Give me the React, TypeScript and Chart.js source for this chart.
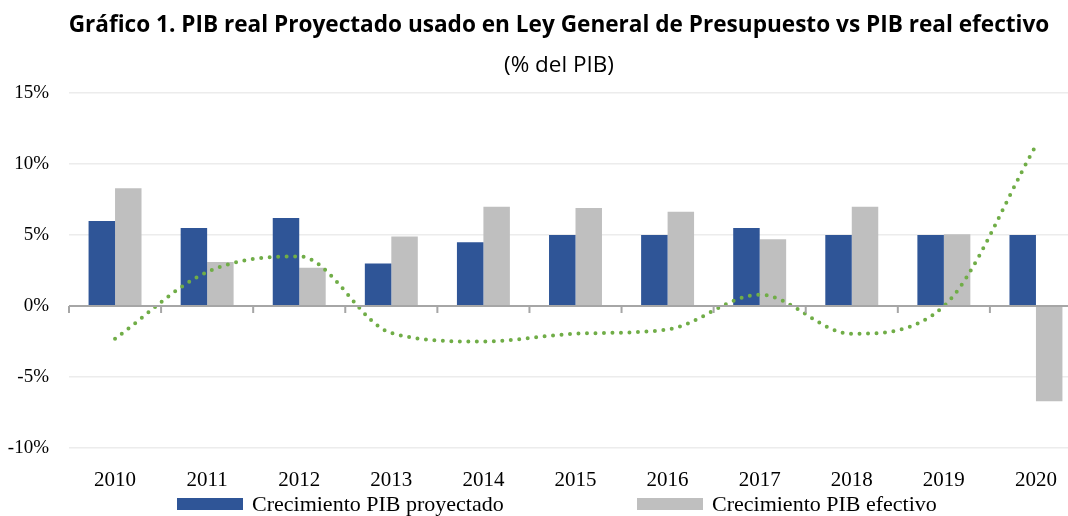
import React, { useEffect, useRef } from 'react';
import { Chart, registerables } from 'chart.js';

Chart.register(...registerables);

const years = ['2010', '2011', '2012', '2013', '2014', '2015', '2016', '2017', '2018', '2019', '2020'];
const proyectado = [6.0, 5.5, 6.2, 3.0, 4.5, 5.0, 5.0, 5.5, 5.0, 5.0, 5.0];
const efectivo = [8.3, 3.1, 2.7, 4.9, 7.0, 6.9, 6.65, 4.7, 7.0, 5.05, -6.7];
const diferencia = [-2.3, 2.4, 3.5, -1.9, -2.5, -1.95, -1.65, 0.8, -1.95, 0.0, 11.3];
const yMin = -10;
const yMax = 15;
const yStep = 5;

const titleText = 'Gráfico 1. PIB real Proyectado usado en Ley General de Presupuesto vs PIB real efectivo';
const subtitleText = '(% del PIB)';
const legendLabels = ['Crecimiento PIB proyectado', 'Crecimiento PIB efectivo'];

const BLUE = '#2F5597';
const GRAY = '#BFBFBF';
const GREEN = '#70AD47';
const AXIS = '#A6A6A6';
const GRID = '#ECECEC';
const SERIF = '"Liberation Serif", "DejaVu Serif", serif';

const axisTicksPlugin = {
  id: 'zeroAxisTicks',
  afterDatasetsDraw(chart: any) {
    const x = chart.scales.x;
    const y = chart.scales.y;
    const y0 = y.getPixelForValue(0);
    const ctx = chart.ctx;
    const n = chart.data.labels.length;
    ctx.save();
    ctx.strokeStyle = AXIS;
    ctx.lineWidth = 2;
    ctx.beginPath();
    ctx.moveTo(x.left, y0);
    ctx.lineTo(x.right, y0);
    for (let i = 0; i <= n; i++) {
      const px = x.left + (i * (x.right - x.left)) / n;
      ctx.moveTo(px, y0);
      ctx.lineTo(px, y0 + 7);
    }
    ctx.stroke();
    ctx.restore();
  },
};

export default function App() {
  const ref = useRef<HTMLCanvasElement>(null);

  useEffect(() => {
    const chart = new Chart(ref.current as HTMLCanvasElement, {
      type: 'bar',
      data: {
        labels: years,
        datasets: [
          {
            type: 'line',
            label: 'Diferencia',
            data: diferencia,
            borderColor: GREEN,
            borderWidth: 4,
            borderDash: [0, 8.5],
            borderCapStyle: 'round',
            pointRadius: 0,
            cubicInterpolationMode: 'monotone',
            fill: false,
            order: 0,
          } as any,
          {
            label: legendLabels[0],
            data: proyectado,
            backgroundColor: BLUE,
            borderWidth: 0,
            categoryPercentage: 0.575,
            barPercentage: 1,
            order: 1,
          },
          {
            label: legendLabels[1],
            data: efectivo,
            backgroundColor: GRAY,
            borderWidth: 0,
            categoryPercentage: 0.575,
            barPercentage: 1,
            order: 1,
          },
        ],
      },
      options: {
        responsive: false,
        animation: false,
        devicePixelRatio: 1,
        layout: { padding: 0 },
        plugins: {
          legend: { display: false },
          tooltip: { enabled: false },
          title: {
            display: true,
            text: titleText,
            color: '#000',
            font: { family: '"Open Sans", sans-serif', size: 22.6, weight: 'bold', lineHeight: 1.2 },
            padding: { top: 12, bottom: 13 },
          },
          subtitle: {
            display: true,
            text: subtitleText,
            color: '#000',
            font: { family: '"Open Sans", sans-serif', size: 22.5, weight: 'normal', lineHeight: 1.2 },
            padding: { top: 0, bottom: 14 },
          },
        },
        scales: {
          x: {
            offset: true,
            grid: { display: false },
            border: { display: false },
            ticks: {
              color: '#000',
              font: { family: SERIF, size: 21 },
              padding: 12,
              maxRotation: 0,
              autoSkip: false,
            },
            afterFit(scale: any) {
              scale.height = 68;
            },
          },
          y: {
            min: yMin,
            max: yMax,
            border: { display: false },
            grid: {
              drawTicks: false,
              color: (c: any) => (c.tick && c.tick.value === 0 ? 'rgba(0,0,0,0)' : GRID),
              lineWidth: 1.5,
            },
            ticks: {
              stepSize: yStep,
              color: '#000',
              font: { family: SERIF, size: 19 },
              padding: 20,
              callback: (v: any) => `${v}%`,
            },
            afterFit(scale: any) {
              scale.width = 69;
            },
          },
          yRight: {
            position: 'right',
            display: true,
            grid: { display: false, drawTicks: false },
            border: { display: false },
            ticks: { display: false },
            afterFit(scale: any) {
              scale.width = 36;
            },
          },
        },
      },
      plugins: [axisTicksPlugin],
    } as any);
    return () => chart.destroy();
  }, []);

  const itemStyle: React.CSSProperties = {
    position: 'absolute',
    top: 490,
    height: 28,
    display: 'flex',
    alignItems: 'center',
    fontFamily: SERIF,
    fontSize: 22,
    color: '#000',
    whiteSpace: 'nowrap',
  };
  const boxStyle: React.CSSProperties = { width: 66, height: 12, marginRight: 9 };

  return (
    <div
      style={{
        position: 'absolute',
        left: 0,
        top: 0,
        width: 1068,
        height: 516,
        overflow: 'hidden',
        background: '#fff',
      }}
    >
      <canvas ref={ref} width={1118} height={516} style={{ display: 'block', width: 1118, height: 516 }} />
      <div style={{ ...itemStyle, left: 177 }}>
        <span style={{ ...boxStyle, background: BLUE }} />
        <span>{legendLabels[0]}</span>
      </div>
      <div style={{ ...itemStyle, left: 637 }}>
        <span style={{ ...boxStyle, background: GRAY }} />
        <span>{legendLabels[1]}</span>
      </div>
    </div>
  );
}
